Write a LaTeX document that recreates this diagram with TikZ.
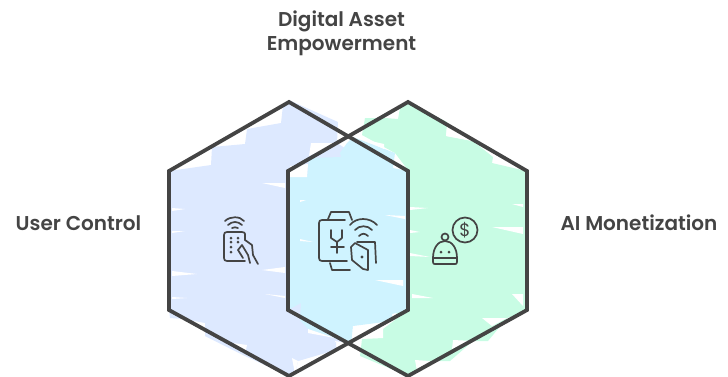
\documentclass[tikz,border=0pt]{standalone}
\usepackage{fontspec}
\setmainfont{Poppins}[BoldFont={* SemiBold}]
\definecolor{inkc}{HTML}{444444}
\definecolor{bluef}{HTML}{DDE9FF}
\definecolor{greenf}{HTML}{C8FCE4}
\definecolor{overf}{HTML}{CFF3FF}
\tikzset{
  x=1pt,y=-1pt,
  hexline/.style={draw=inkc,line width=3.8pt,line join=miter},
  icon/.style={draw=inkc,line width=1.7pt,line cap=round,line join=round},
  dotm/.style={fill=inkc,draw=none},
  gap/.style={fill=white,draw=none},
  lbl/.style={font=\fontsize{20}{24}\selectfont\bfseries,text=inkc,inner sep=0pt,align=center}
}
\begin{document}
\begin{tikzpicture}
\useasboundingbox (0,0) rectangle (728,376);
% blue fill, staircase edge
\fill[bluef] (169,171) -- (211,165) -- (212,147) -- (245,144) -- (247,129) -- (281,123) -- (283,105) -- (289,100) -- (300,105) -- (338,122) -- (337,143) -- (348,150) -- (348,343) -- (335,341) -- (333,349) -- (298,361) -- (295,374) -- (289,376) -- (280,372) -- (245,356) -- (205,336) -- (205,323) -- (183,319) -- (170,318) -- (169,310) -- cycle;
\fill[bluef] (292,358) -- (336,342) -- (336,350) -- (298,361) -- cycle;
% green fill
\fill[greenf] (365,118) -- (385,118) -- (398,119) -- (400,108) -- (408,102) -- (447,122) -- (446,136) -- (473,141) -- (493,157) -- (492,163) -- (522,170) -- (527,171) -- (527,310) -- (522,313) -- (507,318) -- (488,341) -- (473,341) -- (450,361) -- (430,361) -- (408,376) -- (360,356) -- (362,339) -- (383,338) -- (383,329) -- (395,320) -- (400,300) -- (408,200) -- (408,170) -- (395,153) -- (362,135) -- cycle;
% overlap fill
\fill[overf] (307,177) -- (309,158) -- (341,157) -- (340,153) -- (347,143) -- (353,137) -- (395,153) -- (393,168) -- (408,171) -- (408,310) -- (392,314) -- (392,321) -- (353,326) -- (352,338) -- (348,343) -- (335,338) -- (308,329) -- (300,320) -- (301,303) -- (288,310) -- (288,177) -- cycle;
% sketch gaps
\fill[gap] (311,143) -- (337,143) -- (309,156) -- cycle;
\fill[gap] (362,139) -- (384,144) -- (384,149) -- cycle;
\fill[gap] (172,208) -- (185,209) -- (172,211) -- cycle;
\fill[gap] (172,231) -- (185,231) -- (172,233) -- cycle;
\fill[gap] (172,271) -- (197,274) -- (172,276) -- cycle;
\fill[gap] (172,297) -- (187,298) -- (172,299) -- cycle;
\fill[gap] (262,183) -- (285,183) -- (285,188) -- cycle;
\fill[gap] (262,270) -- (285,267) -- (285,273) -- cycle;
\fill[gap] (265,294) -- (285,296) -- (285,298) -- cycle;
\fill[gap] (233,343) -- (247,345) -- (245,354) -- cycle;
\fill[gap] (292,358) -- (298,361) -- (295,374) -- cycle;
\fill[gap] (300,200) -- (306,200) -- (300,202) -- cycle;
\fill[gap] (300,239) -- (313,242) -- (300,241) -- cycle;
\fill[gap] (385,215) -- (405,216) -- (405,219) -- cycle;
\fill[gap] (375,280) -- (403,280) -- (403,286) -- cycle;
\fill[gap] (410,207) -- (428,208) -- (410,210) -- cycle;
\fill[gap] (410,230) -- (420,232) -- (410,233) -- cycle;
\fill[gap] (410,253) -- (430,257) -- (410,256) -- cycle;
\fill[gap] (412,294) -- (433,298) -- (412,298) -- cycle;
\fill[gap] (512,204) -- (523,204) -- (523,207) -- cycle;
\fill[gap] (492,227) -- (523,227) -- (523,234) -- cycle;
\fill[gap] (512,294) -- (523,294) -- (523,306) -- cycle;
\fill[gap] (482,318) -- (507,318) -- (492,326) -- cycle;
\fill[gap] (453,340) -- (473,341) -- (452,349) -- cycle;
\fill[gap] (415,360) -- (430,361) -- (417,371) -- cycle;
\fill[gap] (353,326) -- (383,328) -- (383,338) -- (352,338) -- cycle;
\fill[gap] (308,329) -- (335,338) -- (308,333) -- cycle;
\fill[gap] (448,122) -- (446,136) -- (472,141) -- cycle;
\fill[gap] (290,166) -- (308,164) -- (307,177) -- (290,177) -- cycle;
% hexagons
\draw[hexline] (289,102) -- (408,171) -- (408,310) -- (289,376) -- (169,310) -- (169,171) -- cycle;
\draw[hexline] (408,102) -- (527,171) -- (527,310) -- (408,376) -- (288,310) -- (288,171) -- cycle;
% remote icon
\draw[icon] (225,221) .. controls (230,216) and (240,216) .. (244,221);
\draw[icon] (228,225) .. controls (232,221) and (238,221) .. (242,225);
\draw[icon] (232,228) .. controls (234,227) and (236,227) .. (238,228);
\draw[icon] (245,240) -- (245,234) .. controls (245,233) and (244,232) .. (242,232) -- (227,232) .. controls (225,232) and (224,233) .. (224,235) -- (224,258) .. controls (224,260) and (225,261) .. (227,261) -- (245,261);
\foreach \p in {(231,238),(238,238),(231,242),(238,242),(231,247),(231,252)} \fill[dotm] \p circle (1.5);
\draw[icon] (245,240) -- (252,245) -- (253,255) -- (258,264);
\draw[icon] (238,250) -- (242,245) -- (248,255) -- (250,263);
\draw[icon] (238,250) -- (243,258);
% watch icon
\draw[icon] (328,219) -- (331,212) -- (349,212) -- (352,220);
\draw[icon] (345,220) -- (322,220) .. controls (320,220) and (319,221) .. (319,223) -- (319,258) .. controls (319,260) and (320,261) .. (322,261) -- (347,261);
\draw[icon] (330,263) -- (332,270) -- (350,270);
\draw[icon] (331,230) -- (331,238) -- (337,242) -- (342,238) -- (342,230);
\draw[icon] (337,242) -- (337,253);
\draw[icon] (331,247) -- (344,247);
\draw[icon] (350,225) .. controls (356,217) and (370,217) .. (377,225);
\draw[icon] (355,230) .. controls (359,225) and (368,225) .. (372,230);
\draw[icon] (359,236) .. controls (362,233) and (365,233) .. (368,236);
\draw[icon] (351,247) -- (355,243) -- (368,250) -- (368,270) -- (363,269) -- (352,260) -- cycle;
\fill[dotm] (362,257) circle (1.7);
\draw[icon] (357,242) -- (375,242) -- (376,263);
% robot and coin icon
\draw[icon] (465,230) circle (12.5);
\node[font=\fontsize{18}{18}\selectfont,text=inkc,inner sep=0pt] (coin) at (465,230) {\$};
\draw[icon] (445,237) circle (3.5);
\draw[icon] (433,258) .. controls (433,248) and (438,241) .. (445,241) .. controls (452,241) and (457,248) .. (457,258);
\draw[icon] (433,258) -- (457,258);
\draw[icon] (433,258) -- (433,262) .. controls (433,264) and (434,264) .. (435,264) -- (455,264) .. controls (456,264) and (457,264) .. (457,262) -- (457,258);
\fill[dotm] (441,252) circle (1.5);
\fill[dotm] (449,252) circle (1.5);
% labels
\node[lbl] (t) at (341.5,33) {Digital Asset\hspace{6pt}\\Empowerment};
\node[lbl] (u) at (78.5,223) {User Control};
\node[lbl] (m) at (639,223) {AI Monetization};
\end{tikzpicture}
\end{document}
